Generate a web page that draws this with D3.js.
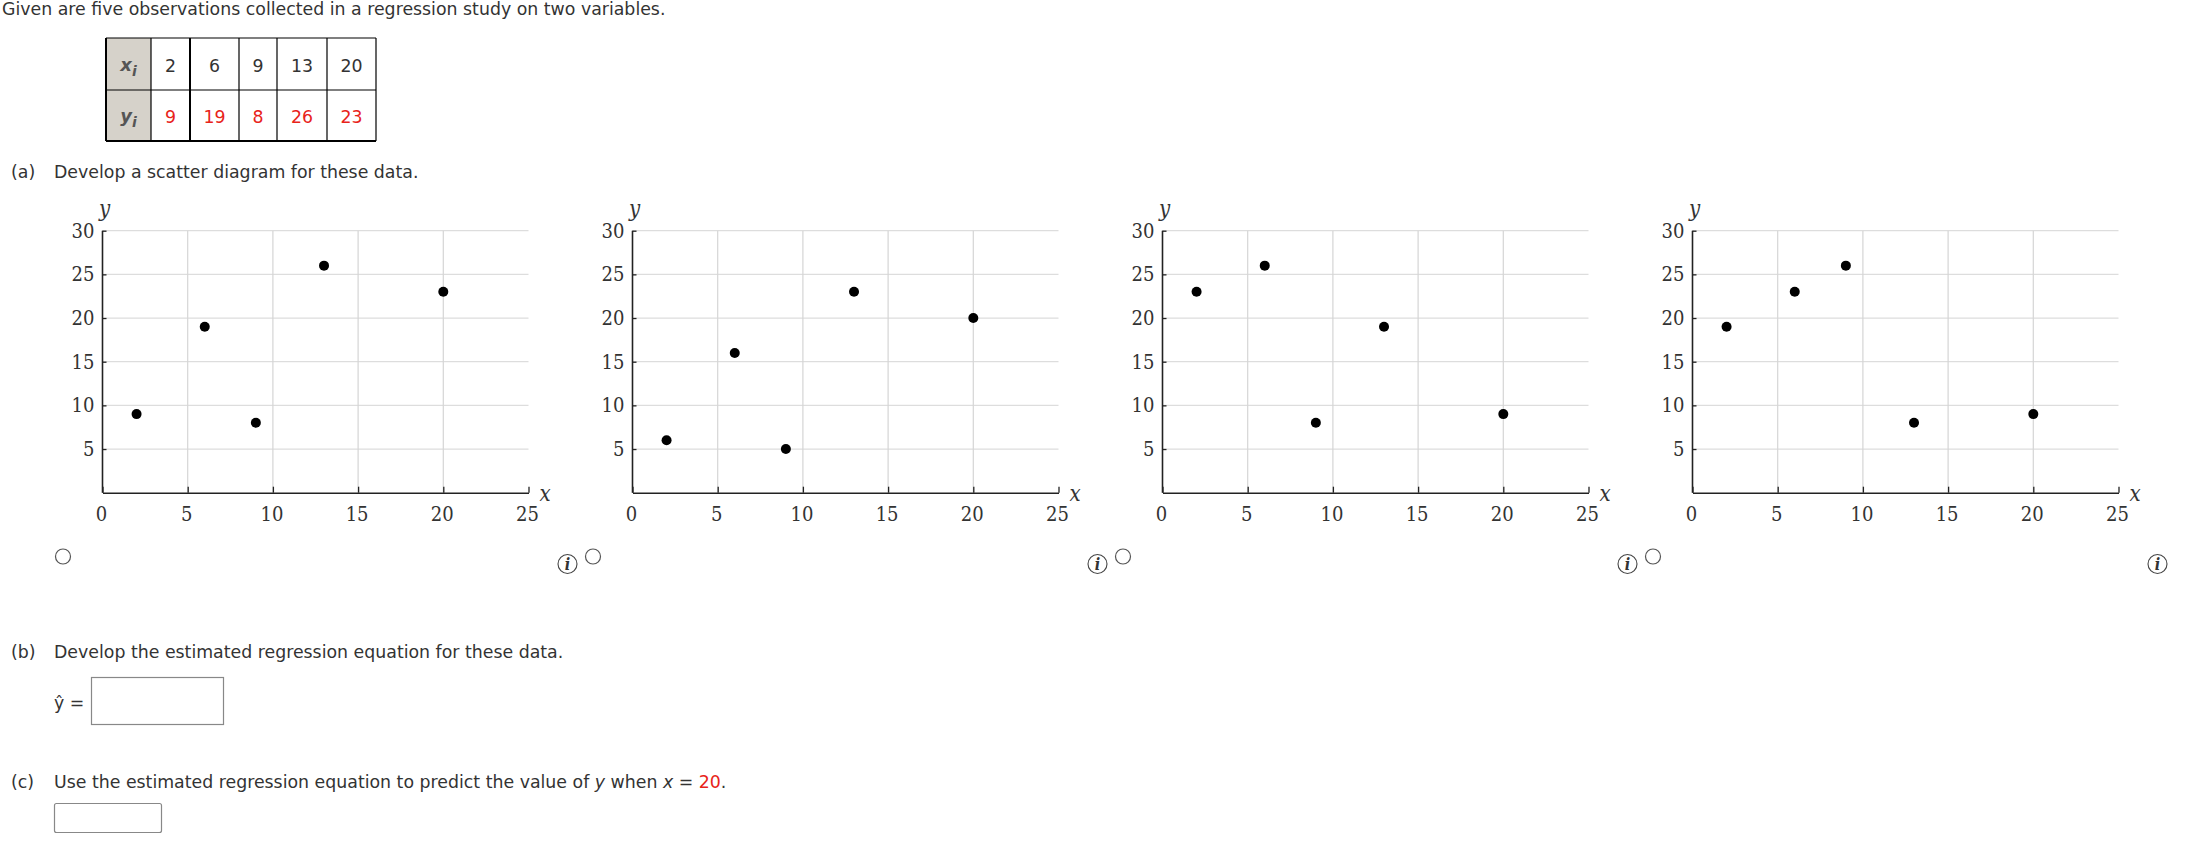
<!DOCTYPE html>
<html><head><meta charset="utf-8">
<script src="https://cdn.jsdelivr.net/npm/d3@7/dist/d3.min.js"></script>
<style>
html,body{margin:0;padding:0;background:#fff;overflow:hidden}
svg{display:block}
.t{font-family:"DejaVu Sans",sans-serif;font-size:17.35px;fill:#333}
.s{font-family:"DejaVu Serif Condensed","DejaVu Serif",serif}
.tick text{font-family:"DejaVu Serif Condensed","DejaVu Serif",serif;font-size:20px;fill:#333}
</style></head><body>
<svg id="c" width="2192" height="854"></svg>
<script>
const xValues=[2,6,9,13,20];
const yValues=[9,19,8,26,23];
const panelYValues=[
  [9,19,8,26,23],
  [6,16,5,23,20],
  [23,26,8,19,9],
  [19,23,26,8,9]
];
const xTicks=[0,5,10,15,20,25];
const yTicks=[5,10,15,20,25,30];
const panelLefts=[102.5,632.5,1162.5,1692.5];
const tableColEdges=[106,151,190,239,277,327,376];
const tableRowEdges=[38,90,141];

const svg=d3.select("#c");
function txt(x,y,str,cls){
  return svg.append("text").attr("class",cls||"t").attr("x",x).attr("y",y).text(str);
}
txt(2,14.5,"Given are five observations collected in a regression study on two variables.");

// table
svg.append("rect").attr("x",tableColEdges[0]).attr("y",tableRowEdges[0])
  .attr("width",tableColEdges[1]-tableColEdges[0]).attr("height",tableRowEdges[2]-tableRowEdges[0]).attr("fill","#d6d2ca");
tableRowEdges.forEach((y,i)=>svg.append("line").attr("x1",106).attr("x2",376).attr("y1",y).attr("y2",y)
  .attr("stroke","#000").attr("stroke-width",i==2?2:1.2));
tableColEdges.forEach((x,i)=>svg.append("line").attr("x1",x).attr("x2",x).attr("y1",38).attr("y2",141)
  .attr("stroke","#000").attr("stroke-width",(i==0||i==2)?2:1.2));
["x","y"].forEach((n,r)=>{
  const cy=(tableRowEdges[r]+tableRowEdges[r+1])/2+7.5;
  const t=svg.append("text").attr("x",128.5).attr("y",cy-1).attr("text-anchor","middle")
    .attr("font-family","DejaVu Sans").attr("font-weight","bold").attr("font-style","italic").attr("font-size",18).attr("fill","#555").text(n);
  t.append("tspan").attr("dy",5).attr("font-size",14).text("i");
  (r==0?xValues:yValues).forEach((v,i)=>{
    svg.append("text").attr("class","t").attr("x",(tableColEdges[i+1]+tableColEdges[i+2])/2).attr("y",cy)
      .attr("text-anchor","middle").style("fill",r==0?"#333":"#e8231a").text(v);
  });
});

txt(11,178,"(a)");
txt(54,178,"Develop a scatter diagram for these data.");

// panels
panelYValues.forEach((ys,p)=>{
  const L=panelLefts[p];
  const x=d3.scaleLinear().domain([0,25]).range([L,L+426]);
  const y=d3.scaleLinear().domain([0,30]).range([492.7,230.7]);
  const g=svg.append("g");
  g.selectAll(".gh").data(yTicks).join("line").attr("x1",x(0)).attr("x2",x(25))
    .attr("y1",d=>y(d)).attr("y2",d=>y(d)).attr("stroke","#ddd").attr("stroke-width",1.2);
  g.selectAll(".gv").data(xTicks.slice(1,-1)).join("line").attr("y1",y(0)).attr("y2",y(30))
    .attr("x1",d=>x(d)).attr("x2",d=>x(d)).attr("stroke","#d5d5d5").attr("stroke-width",1.2);
  const ax=g.append("g").attr("transform",`translate(0,${y(0)})`)
    .call(d3.axisBottom(x).tickValues(xTicks).tickSizeOuter(0).tickSizeInner(-6).tickPadding(14));
  const ay=g.append("g").attr("transform",`translate(${x(0)},0)`)
    .call(d3.axisLeft(y).tickValues(yTicks).tickSizeOuter(0).tickSizeInner(-4).tickPadding(8));
  [ax,ay].forEach(a=>{a.select(".domain").attr("stroke","#222").attr("stroke-width",1.6);
    a.selectAll(".tick line").attr("stroke","#222").attr("stroke-width",1.3);});
  ay.select(".domain").attr("d",`M0,${y(30)}V${y(0)}`);
  ax.selectAll(".tick text").attr("dx",-1.5);
  g.selectAll("circle.pt").data(xValues.map((v,i)=>[v,ys[i]])).join("circle").attr("class","pt")
    .attr("cx",d=>x(d[0])).attr("cy",d=>y(d[1])).attr("r",5).attr("fill","#000");
  g.append("text").attr("class","s").attr("x",L+2).attr("y",y(30)-15).attr("font-size",22).attr("font-style","italic").attr("fill","#333").text("y").attr("text-anchor","middle");
  g.append("text").attr("class","s").attr("x",L+437).attr("y",y(0)+8).attr("font-size",22).attr("font-style","italic").attr("fill","#333").text("x");
  const rx=63+530*p;
  g.append("circle").attr("cx",rx).attr("cy",556.5).attr("r",7.5).attr("fill","#fff").attr("stroke","#555").attr("stroke-width",1.2);
  const ix=567.5+530*p;
  g.append("circle").attr("cx",ix).attr("cy",564).attr("r",9.5).attr("fill","#fff").attr("stroke","#444").attr("stroke-width",1.1);
  g.append("text").attr("class","s").attr("x",ix).attr("y",570).attr("text-anchor","middle").attr("font-size",16).attr("font-weight","bold").attr("font-style","italic").attr("fill","#333").text("i");
});

txt(11,658,"(b)");
txt(54,658,"Develop the estimated regression equation for these data.");
txt(54,709,"ŷ =");
svg.append("rect").attr("x",91.5).attr("y",677.5).attr("width",132).attr("height",47).attr("fill","#fff").attr("stroke","#888").attr("stroke-width",1.2);
txt(11,788,"(c)");
const c=txt(54,788,"Use the estimated regression equation to predict the value of ");
c.append("tspan").attr("font-style","italic").text("y");
c.append("tspan").text(" when ");
c.append("tspan").attr("font-style","italic").text("x");
c.append("tspan").text(" = ");
c.append("tspan").style("fill","#e8231a").text("20");
c.append("tspan").text(".");
svg.append("rect").attr("x",54.5).attr("y",803.5).attr("width",107).attr("height",29).attr("rx",2).attr("fill","#fff").attr("stroke","#888").attr("stroke-width",1.2);
</script></body></html>
